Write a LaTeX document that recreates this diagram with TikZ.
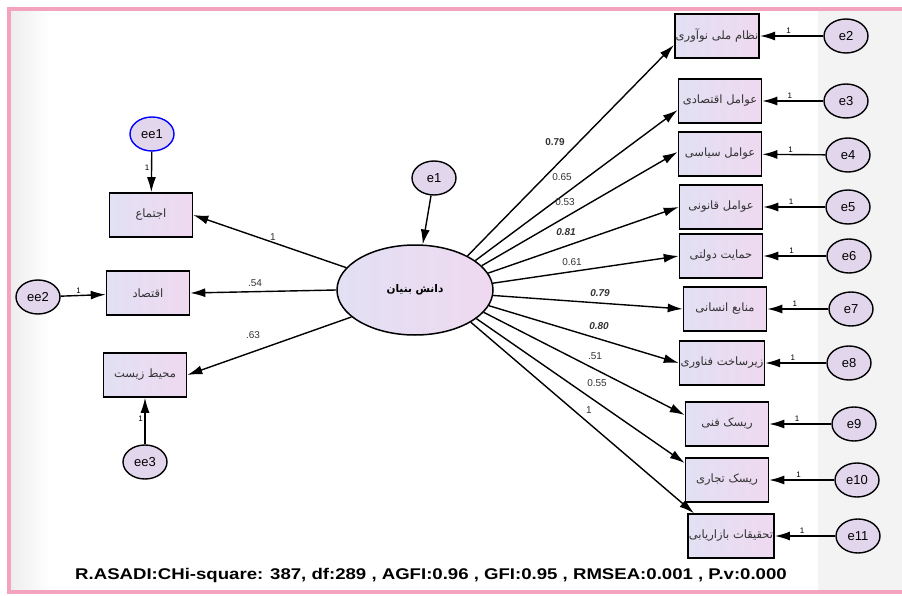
\documentclass[tikz,border=0pt]{standalone}
\usepackage{fontspec}
\setmainfont{Liberation Sans}
\newfontfamily\arabicfont[Script=Arabic]{DejaVu Sans}
\TeXXeTstate=1
\usetikzlibrary{shapes.geometric,arrows.meta}
\definecolor{pinkframe}{HTML}{F4A3BF}
\definecolor{boxL}{HTML}{E2E0F3}
\definecolor{boxR}{HTML}{EFD9F0}
\definecolor{errfill}{HTML}{E2D6EC}
\definecolor{stripgray}{HTML}{EEEEEE}
\definecolor{txtgray}{HTML}{333333}
\tikzset{
  obs/.style={draw, line width=1.6pt, minimum width=83pt, minimum height=44pt,
    left color=boxL, right color=boxR, inner sep=1pt, text=txtgray,
    font=\arabicfont\fontsize{11.5}{12}\selectfont},
  err/.style={draw, ellipse, line width=1.4pt, fill=errfill, minimum width=44pt,
    minimum height=34pt, inner sep=0pt, font=\fontsize{13}{14}\selectfont},
  latent/.style={draw, ellipse, line width=1.5pt, minimum width=156pt, minimum height=90pt,
    left color=boxL, right color=boxR, font=\arabicfont\bfseries\fontsize{10.5}{12}\selectfont},
  arr/.style={-{Latex[length=15pt,width=9pt]}, line width=1.4pt},
  lab/.style={font=\fontsize{10}{11}\selectfont, text=txtgray},
  labb/.style={font=\bfseries\fontsize{10}{11}\selectfont, text=txtgray},
  labbi/.style={font=\bfseries\itshape\fontsize{10}{11}\selectfont, text=txtgray},
  one/.style={font=\fontsize{8}{9}\selectfont, inner sep=1.5pt}
}
\begin{document}
\begin{tikzpicture}[x=1pt,y=-1pt]
\useasboundingbox (0,0) rectangle (902,596);
\fill[white] (0,0) rectangle (902,596);
% gray strips
\shade[left color=stripgray, right color=white] (11,11) rectangle (50,590);
\fill[stripgray!70] (818,11) rectangle (902,590);
% frame
\draw[pinkframe, line width=3.5pt] (920,9) -- (9,9) -- (9,592) -- (920,592);

% left side
\node[obs] (soc) at (151,215) {\beginR اجتماع\endR};
\node[obs] (eco) at (148,293) {\beginR اقتصاد\endR};
\node[obs] (env) at (145,375) {\beginR محیط زیست\endR};
\node[err, draw=blue] (ee1) at (152,134) {ee1};
\node[err] (ee2) at (38,297) {ee2};
\node[err] (ee3) at (145,462) {ee3};

% center
\node[latent] (main) at (415,290) {\beginR دانش بنیان\endR};
\node[err] (e1) at (434,178) {e1};

% right boxes
\node[obs] (b1) at (717,36) {\beginR نظام ملی نوآوری\endR};
\node[obs] (b2) at (720,101) {\beginR عوامل اقتصادی\endR};
\node[obs] (b3) at (720,154) {\beginR عوامل سیاسی\endR};
\node[obs] (b4) at (721,207) {\beginR عوامل قانونی\endR};
\node[obs] (b5) at (721,256) {\beginR حمایت دولتی\endR};
\node[obs] (b6) at (725,309) {\beginR منابع انسانی\endR};
\node[obs] (b7) at (722,363) {\beginR زیرساخت فناوری\endR};
\node[obs] (b8) at (727,424) {\beginR ریسک فنی\endR};
\node[obs] (b9) at (727,480) {\beginR ریسک تجاری\endR};
\node[obs] (b10) at (731,536) {\beginR تحقیقات بازاریابی\endR};

\node[err] (e2) at (846,36) {e2};
\node[err] (e3) at (846,101) {e3};
\node[err] (e4) at (848,155) {e4};
\node[err] (e5) at (848,207) {e5};
\node[err] (e6) at (849,256) {e6};
\node[err] (e7) at (851,309) {e7};
\node[err] (e8) at (849,363) {e8};
\node[err] (e9) at (854,424) {e9};
\node[err] (e10) at (857,480) {e10};
\node[err] (e11) at (858,536) {e11};

% left arrows
\draw[arr] (main.162) -- (soc.east);
\draw[arr] (main.180) -- (eco.east);
\draw[arr] (main.203) -- (env.east);
\draw[arr] (ee1) -- node[one, pos=0.4, left] {1} (soc);
\draw[arr] (ee2) -- node[one, pos=0.4, above] {1} (eco);
\draw[arr] (ee3) -- node[one, pos=0.55, left] {1} (env);
\draw[arr] (e1) -- (main);

% right arrows
\draw[arr] (main.33) -- ([yshift=-9pt]b1.west);
\draw[arr] (main.26) -- ([yshift=-9pt]b2.west);
\draw[arr] (main.20) -- ([yshift=2pt]b3.west);
\draw[arr] (main.13) -- (b4.west);
\draw[arr] (main.5) -- (b5.west);
\draw[arr] (main.-4) -- (b6.west);
\draw[arr] (main.-12) -- (b7.west);
\draw[arr] (main.-18) -- ([yshift=9pt]b8.west);
\draw[arr] (main.-25) -- ([yshift=17pt]b9.west);
\draw[arr] (main.-30) -- ([xshift=-37pt]b10.north);

\foreach \e/\b in {e2/b1,e3/b2,e4/b3,e5/b4,e6/b5,e7/b6,e8/b7,e9/b8,e10/b9,e11/b10}
  \draw[arr] (\e) -- node[one, pos=0.55, above] {1} (\b);

% loadings
\node[lab] (l1) at (273,237) {1};
\node[lab] (l2) at (255,283) {.54};
\node[lab] (l3) at (253,335) {.63};
\node[labb] (r1) at (555,142) {0.79};
\node[lab] (r2) at (562,177) {0.65};
\node[lab] (r3) at (565,202) {0.53};
\node[labbi] (r4) at (566,232) {0.81};
\node[lab] (r5) at (572,262) {0.61};
\node[labbi] (r6) at (600,293) {0.79};
\node[labbi] (r7) at (599,326) {0.80};
\node[lab] (r8) at (595,356) {.51};
\node[lab] (r9) at (597,383) {0.55};
\node[lab] (r10) at (589,410) {1};

% footer
\node[font=\bfseries\fontsize{15.5}{17}\selectfont] (foot) at (431,575)
  {\scalebox{1.2}[1]{R.ASADI:CHi-square: 387, df:289 , AGFI:0.96 , GFI:0.95 , RMSEA:0.001 , P.v:0.000}};
\end{tikzpicture}
\end{document}
